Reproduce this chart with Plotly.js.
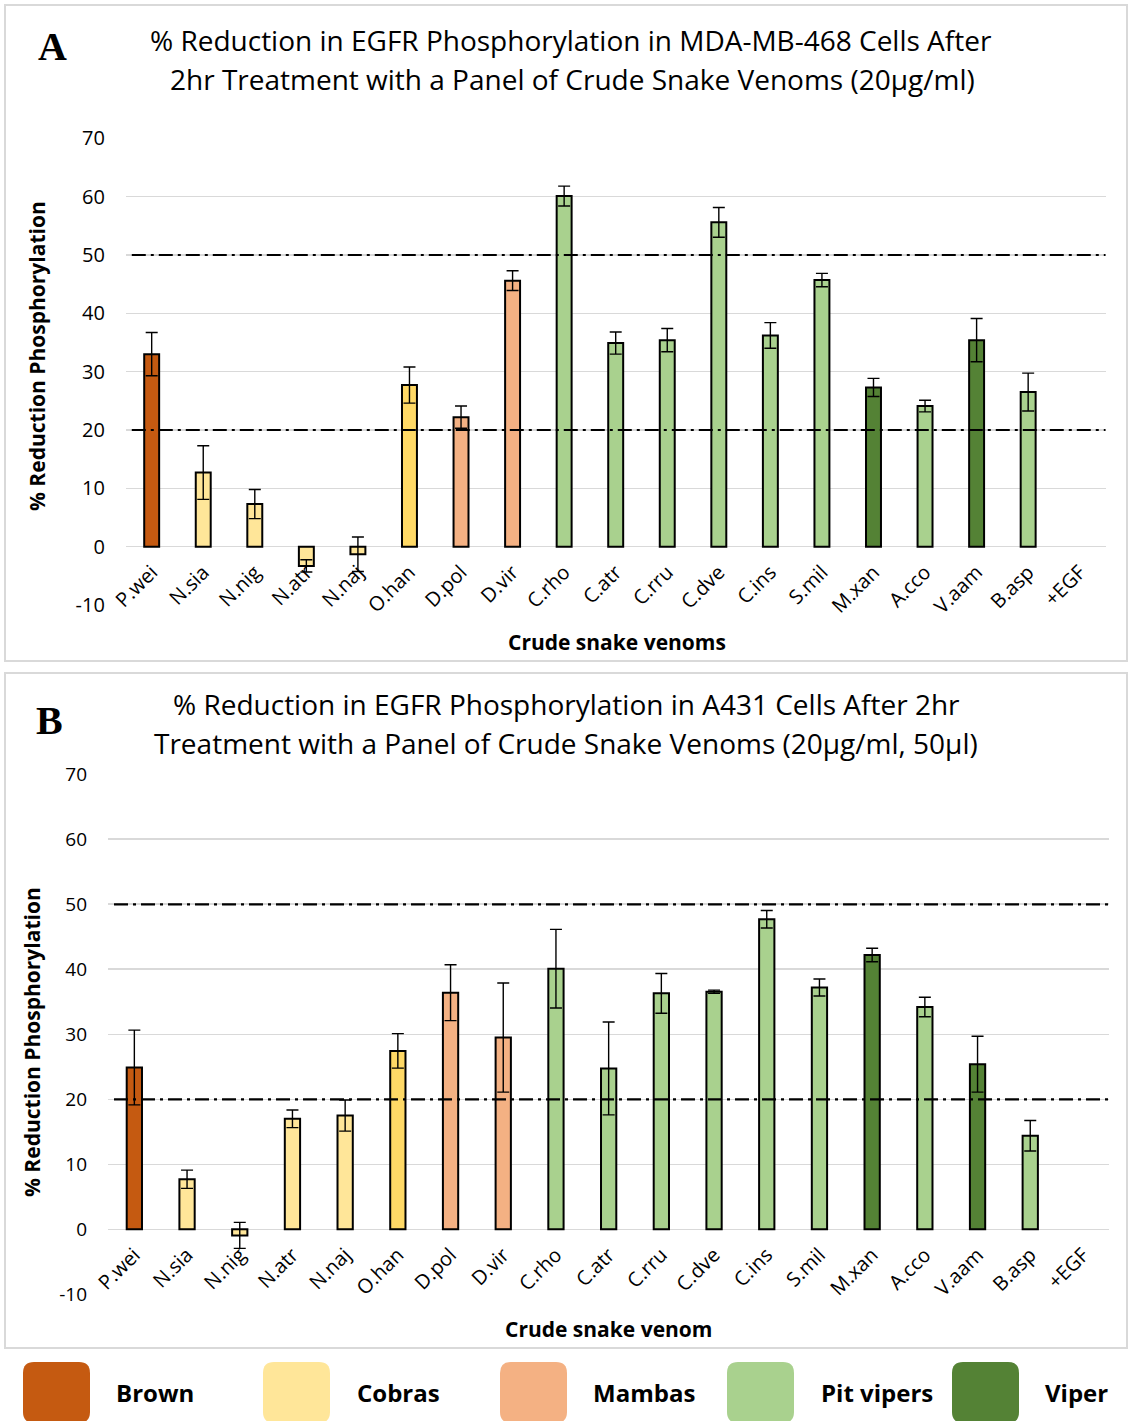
<!DOCTYPE html>
<html>
<head>
<meta charset="utf-8">
<script src="https://cdn.plot.ly/plotly-3.0.1.min.js"></script>
<style>
  html, body { margin: 0; padding: 0; background: #ffffff; }
  #chart { width: 1129px; height: 1421px; }
</style>
</head>
<body>
<div id="chart"></div>
<script>
// ---------------- DATA ----------------
const categories = ['P.wei','N.sia','N.nig','N.atr','N.naj','O.han','D.pol','D.vir','C.rho','C.atr','C.rru','C.dve','C.ins','S.mil','M.xan','A.cco','V.aam','B.asp','+EGF'];
const groups = ['Brown','Cobras','Cobras','Cobras','Cobras','King cobra','Mambas','Mambas','Pit vipers','Pit vipers','Pit vipers','Pit vipers','Pit vipers','Pit vipers','Viper','Pit vipers','Viper','Pit vipers','Control'];

// Panel A: MDA-MB-468 cells
const valuesA = [33.0, 12.7, 7.3, -3.3, -1.3, 27.7, 22.2, 45.6, 60.1, 34.9, 35.4, 55.6, 36.2, 45.7, 27.3, 24.1, 35.4, 26.5, null];
const errorsA = [3.7, 4.6, 2.5, 1.05, 2.95, 3.1, 1.9, 1.7, 1.7, 1.9, 2.0, 2.55, 2.2, 1.15, 1.55, 1.0, 3.7, 3.25, null];

// Panel B: A431 cells
const valuesB = [24.9, 7.7, -0.94, 17.0, 17.5, 27.45, 36.4, 29.5, 40.1, 24.75, 36.3, 36.55, 47.7, 37.2, 42.2, 34.2, 25.4, 14.4, null];
const errorsB = [5.75, 1.4, 2.0, 1.35, 2.4, 2.65, 4.3, 8.4, 6.05, 7.15, 3.05, 0.25, 1.35, 1.3, 1.05, 1.5, 4.3, 2.35, null];

const thresholds = [20, 50];
const yTicks = [-10, 0, 10, 20, 30, 40, 50, 60, 70];
const yTickText = ['-10', '0', '10', '20', '30', '40', '50', '60', '70'];

const legendNames = ['Brown', 'Cobras', 'Mambas', 'Pit vipers', 'Viper'];

const titleA = ['% Reduction in EGFR Phosphorylation in MDA-MB-468 Cells After', '2hr Treatment with a Panel of Crude Snake Venoms (20µg/ml)'];
const titleB = ['% Reduction in EGFR Phosphorylation in A431 Cells After 2hr', 'Treatment with a Panel of Crude Snake Venoms (20µg/ml, 50µl)'];
const xTitleA = 'Crude snake venoms';
const xTitleB = 'Crude snake venom';
const yTitle = '% Reduction Phosphorylation';

// ---------------- STYLE ----------------
const palette = {
  'Brown': '#C55A11',
  'Cobras': '#FFE699',
  'King cobra': '#FFD966',
  'Mambas': '#F4B183',
  'Pit vipers': '#A9D18E',
  'Viper': '#548235',
  'Control': '#ffffff'
};
const barColors = groups.map(g => palette[g]);

const W = 1129, H = 1421;
const px = v => v / W;
const py = v => 1 - v / H;
const FONT = 'Open Sans, Noto Sans, sans-serif';

function barTrace(vals, errs, xa, ya) {
  return {
    type: 'bar', x: categories, y: vals, xaxis: xa, yaxis: ya,
    width: 0.29,
    marker: { color: barColors, line: { color: '#000000', width: 2 } },
    error_y: { type: 'data', array: errs, visible: true, color: '#000000', thickness: 1.4, width: 6 },
    hoverinfo: 'skip', showlegend: false
  };
}

const data = [barTrace(valuesA, errorsA, 'x', 'y'), barTrace(valuesB, errorsB, 'x2', 'y2')];

function yAxis(domain, anchor, standoff, size) {
  return {
    domain: domain, anchor: anchor, range: [-10, 70], tickvals: yTicks, ticktext: yTickText,
    showgrid: true, gridcolor: '#d9d9d9', gridwidth: 1.6,
    zeroline: false, showline: false, ticks: '',
    ticklabelstandoff: standoff,
    tickfont: { family: FONT, size: size, color: '#000000' },
    fixedrange: true
  };
}
function xAxis(domain, pos) {
  return {
    domain: domain, anchor: 'free', position: pos, type: 'category',
    tickangle: -45, showgrid: false, zeroline: false, showline: false, ticks: '',
    ticklabelstandoff: 9,
    tickfont: { family: FONT, size: 20, color: '#000000' },
    fixedrange: true
  };
}

const shapes = [];
// frames
shapes.push({ type: 'rect', xref: 'paper', yref: 'paper', x0: px(5), x1: px(1127), y0: py(5), y1: py(661), line: { color: '#d9d9d9', width: 2 }, fillcolor: 'rgba(0,0,0,0)', layer: 'below' });
shapes.push({ type: 'rect', xref: 'paper', yref: 'paper', x0: px(5), x1: px(1127), y0: py(673), y1: py(1348), line: { color: '#d9d9d9', width: 2 }, fillcolor: 'rgba(0,0,0,0)', layer: 'below' });
// threshold lines
[['x', 'y'], ['x2', 'y2']].forEach(([xa, ya]) => {
  thresholds.forEach(t => {
    shapes.push({ type: 'line', xref: xa + ' domain', yref: ya, x0: 0.006, x1: 1, y0: t, y1: t,
      line: { color: '#000000', width: 2.2, dash: '14px,5px,3px,5px' } });
  });
});
// legend swatches (rounded)
function roundRect(x0, y0, x1, y1, r) {
  const X = v => px(v), Y = v => py(v);
  return `M ${X(x0 + r)},${Y(y0)} L ${X(x1 - r)},${Y(y0)} Q ${X(x1)},${Y(y0)} ${X(x1)},${Y(y0 + r)} ` +
         `L ${X(x1)},${Y(y1 - r)} Q ${X(x1)},${Y(y1)} ${X(x1 - r)},${Y(y1)} L ${X(x0 + r)},${Y(y1)} ` +
         `Q ${X(x0)},${Y(y1)} ${X(x0)},${Y(y1 - r)} L ${X(x0)},${Y(y0 + r)} Q ${X(x0)},${Y(y0)} ${X(x0 + r)},${Y(y0)} Z`;
}
const swatchX = [23, 263, 500, 727, 952];
const labelX = [114, 355, 591, 819, 1043];
legendNames.forEach((n, i) => {
  shapes.push({ type: 'path', xref: 'paper', yref: 'paper', path: roundRect(swatchX[i], 1362, swatchX[i] + 67, 1423, 11),
    fillcolor: palette[n], line: { width: 0 } });
});

const annotations = [];
function ann(text, x, y, opts) {
  annotations.push(Object.assign({ text: text, xref: 'paper', yref: 'paper', x: px(x), y: py(y),
    xanchor: 'center', yanchor: 'middle', showarrow: false,
    font: { family: FONT, size: 28, color: '#000000' } }, opts || {}));
}
ann(titleA[0], 571, 40);
ann(titleA[1], 572, 79);
ann(titleB[0], 566, 704);
ann(titleB[1], 566, 743);
ann('<b>A</b>', 52, 46, { font: { family: 'Liberation Serif, serif', size: 40, color: '#000000' } });
ann('<b>B</b>', 49, 720, { font: { family: 'Liberation Serif, serif', size: 40, color: '#000000' } });
ann('<b>' + yTitle + '</b>', 37, 356, { textangle: -90, font: { family: FONT, size: 21, color: '#000000' } });
ann('<b>' + yTitle + '</b>', 32, 1042, { textangle: -90, font: { family: FONT, size: 21, color: '#000000' } });
ann('<b>' + xTitleA + '</b>', 617, 642, { font: { family: FONT, size: 21, color: '#000000' } });
ann('<b>' + xTitleB + '</b>', 608, 1329, { font: { family: FONT, size: 21, color: '#000000' } });
legendNames.forEach((n, i) => {
  ann('<b>' + n + '</b>', labelX[i], 1392, { xanchor: 'left', font: { family: FONT, size: 24, color: '#000000' } });
});

const layout = {
  width: W, height: H,
  margin: { l: 0, r: 0, t: 0, b: 0 },
  paper_bgcolor: '#ffffff', plot_bgcolor: '#ffffff',
  showlegend: false, bargap: 0.7,
  font: { family: FONT, color: '#000000' },
  xaxis: xAxis([px(125.9), px(1105.5)], py(546.7)),
  yaxis: yAxis([py(605), py(138.3)], 'x', 20, 20),
  xaxis2: xAxis([px(108), px(1109.3)], py(1229.3)),
  yaxis2: yAxis([py(1294.3), py(774.3)], 'x2', 20, 19),
  shapes: shapes,
  annotations: annotations
};

Plotly.newPlot('chart', data, layout, { staticPlot: true, displayModeBar: false });
</script>
</body>
</html>
